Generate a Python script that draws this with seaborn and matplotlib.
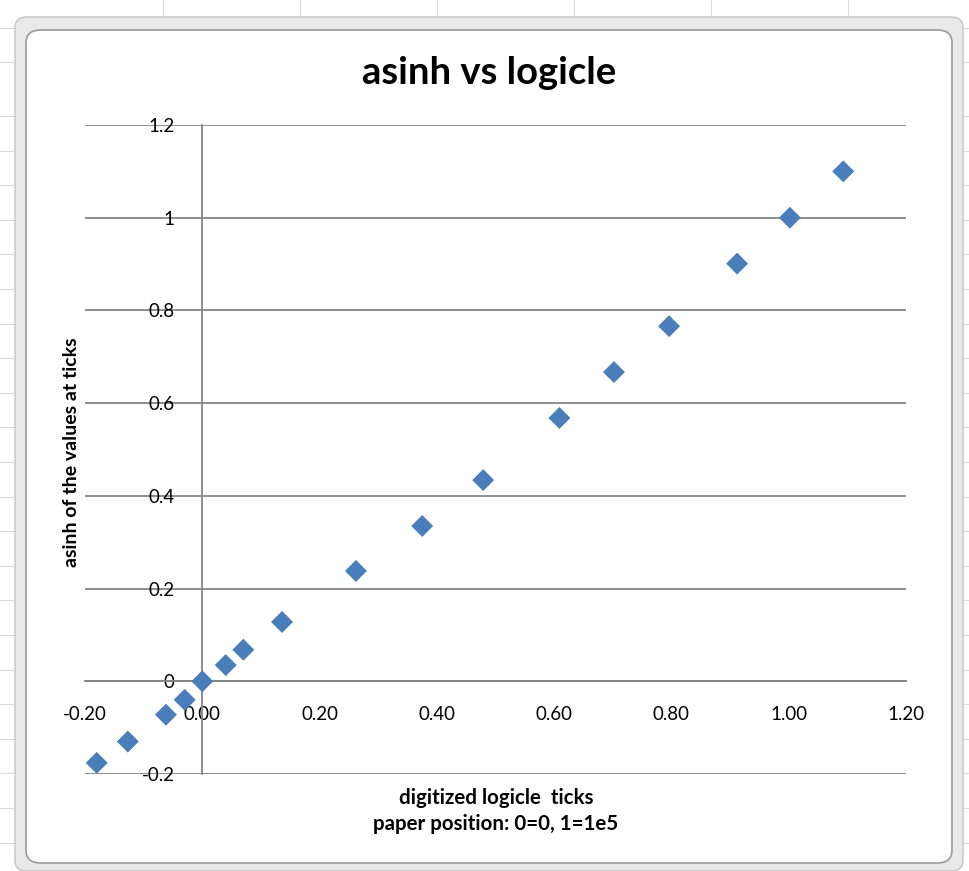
import matplotlib
matplotlib.use("Agg")
import matplotlib.pyplot as plt
import seaborn as sns
import pandas as pd
from matplotlib.patches import FancyBboxPatch
from matplotlib.lines import Line2D

# ---- data ----
logicle_ticks = [-0.180, -0.127, -0.062, -0.030, 0.0, 0.040, 0.070, 0.136,
                 0.262, 0.375, 0.479, 0.609, 0.702, 0.796, 0.912, 1.002, 1.093]
asinh_values = [-0.176, -0.130, -0.072, -0.040, 0.0, 0.035, 0.068, 0.128,
                0.238, 0.335, 0.434, 0.568, 0.667, 0.766, 0.901, 1.000, 1.100]
x_tick_values = [-0.2, 0.0, 0.2, 0.4, 0.6, 0.8, 1.0, 1.2]
y_tick_values = [-0.2, 0.0, 0.2, 0.4, 0.6, 0.8, 1.0, 1.2]
y_tick_labels = ["-0.2", "0", "0.2", "0.4", "0.6", "0.8", "1", "1.2"]

title = "asinh vs logicle"
ylabel = "asinh of the values at ticks"
xlabel = "digitized logicle  ticks\npaper position: 0=0, 1=1e5"

df = pd.DataFrame({"x": logicle_ticks, "y": asinh_values})

sns.set_theme(style="white")
plt.rcParams["font.family"] = ["Lato", "DejaVu Sans"]

W, H = 970, 871
fig = plt.figure(figsize=(W / 100, H / 100), dpi=100)
fig.patch.set_facecolor("white")

def fx(px):
    return px / W

def fy(py):
    return 1 - py / H

# spreadsheet background grid
cell_line = "#dadada"
for xv in [163, 300, 437, 574, 711, 848]:
    fig.add_artist(Line2D([fx(xv), fx(xv)], [0, 1], color=cell_line, lw=0.8, zorder=0))
rows = [28, 62] + [116 + 34.6 * k for k in range(23)]
for yv in rows:
    fig.add_artist(Line2D([0, 1], [fy(yv), fy(yv)], color=cell_line, lw=0.8, zorder=0))

# chart frame (selected Excel chart)
outer = FancyBboxPatch((fx(15), fy(871)), fx(963 - 15), (871 - 17) / H,
                       boxstyle="round,pad=0,rounding_size=0.012",
                       transform=fig.transFigure, facecolor="#e9e9e9",
                       edgecolor="#c4c4c4", lw=1.0, zorder=1)
fig.add_artist(outer)
inner = FancyBboxPatch((fx(26), fy(863)), fx(952 - 26), (863 - 30) / H,
                       boxstyle="round,pad=0,rounding_size=0.015",
                       transform=fig.transFigure, facecolor="white",
                       edgecolor="#9a9a9a", lw=1.2, zorder=2)
fig.add_artist(inner)

ax = fig.add_axes([fx(85), fy(774), fx(906 - 85), (774 - 125) / H], zorder=3)
ax.set_facecolor("none")

sns.scatterplot(data=df, x="x", y="y", ax=ax, marker="D", s=125,
                color="#4a7ebb", edgecolor="none", zorder=5, clip_on=False)

ax.set_xlim(-0.2, 1.2)
ax.set_ylim(-0.2, 1.2)

# axes crossing at zero
for side in ["top", "right"]:
    ax.spines[side].set_visible(False)
ax.spines["left"].set_position(("data", 0))
ax.spines["bottom"].set_position(("data", 0))
for side in ["left", "bottom"]:
    ax.spines[side].set_color("#868686")
    ax.spines[side].set_linewidth(1.3)
    ax.spines[side].set_zorder(4)

ax.set_xticks(x_tick_values)
ax.set_xticklabels([f"{v:.2f}" for v in x_tick_values])
ax.set_yticks(y_tick_values)
ax.set_yticklabels(y_tick_labels)
ax.tick_params(axis="x", direction="out", length=6, width=1.3, color="#868686",
               pad=12, labelsize=13.5, labelcolor="black")
ax.tick_params(axis="y", length=0, pad=20, labelsize=13.5, labelcolor="black")
ax.yaxis.grid(True, color="#868686", lw=1.3)
ax.xaxis.grid(False)
ax.set_axisbelow(True)

ax.set_xlabel("")
ax.set_ylabel("")

fig.text(fx(489), fy(73), title, ha="center", va="center",
         fontsize=27.5, fontweight="bold", color="black", zorder=6)
fig.text(fx(72), fy(452), ylabel, ha="center", va="center", rotation=90,
         fontsize=14, fontweight="bold", color="black", zorder=6)
fig.text(fx(496), fy(811), xlabel, ha="center", va="center",
         fontsize=14.8, fontweight="bold", color="black", linespacing=1.4, zorder=6)

fig.savefig("out.png", dpi=100)
